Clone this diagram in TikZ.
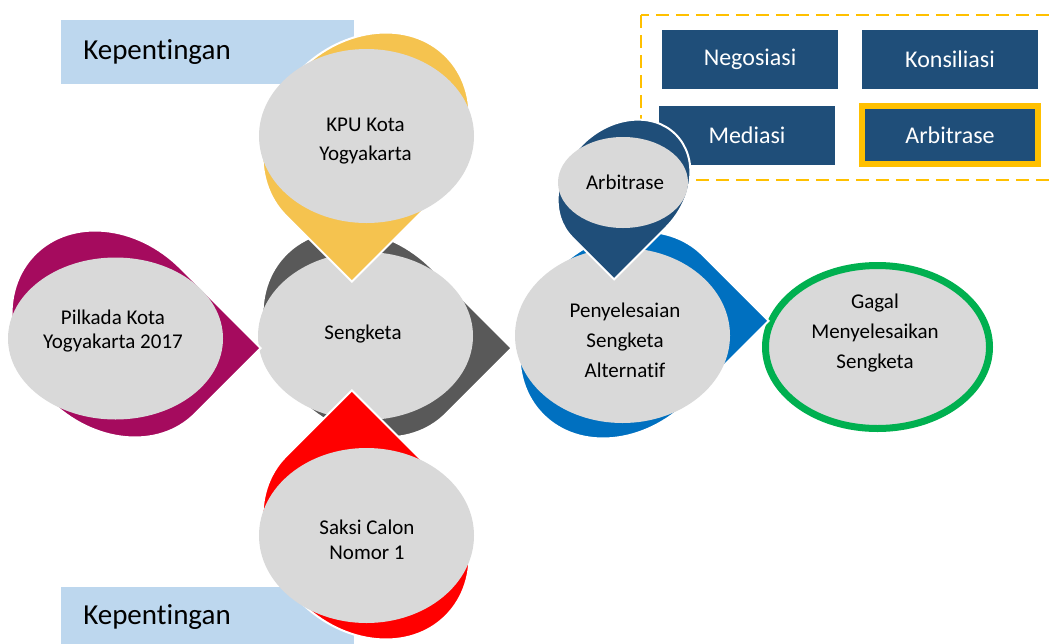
\documentclass[tikz,border=0pt]{standalone}
\usepackage{fontspec}
\setmainfont{Carlito}[Ligatures=NoCommon]
\usetikzlibrary{shapes.geometric}
\definecolor{berry}{HTML}{A50B5E}
\definecolor{dgrey}{HTML}{595959}
\definecolor{gold1}{HTML}{F5C34F}
\definecolor{blue1}{HTML}{0070C0}
\definecolor{navy}{HTML}{1F4E79}
\definecolor{red1}{HTML}{FF0000}
\definecolor{lgrey}{HTML}{D9D9D9}
\definecolor{lblue}{HTML}{BDD7EE}
\definecolor{green1}{HTML}{00B050}
\definecolor{amber}{HTML}{FFC000}
\newcommand\tdrop[6]{%
  \begin{scope}[shift={(#2,#3)}, rotate=#4, xscale=#5, yscale=#6]
    \path[tear=#1] (1,1) -- (1,0) arc[start angle=0, end angle=-270, radius=1] -- cycle;
  \end{scope}}
\tikzset{
  tear/.style={fill=#1, draw=white, line width=1.5pt},
  ell/.style={ellipse, fill=lgrey, draw=none, inner sep=0pt},
  txt/.style={align=center, inner sep=0pt, text=black},
  kep/.style={fill=lblue, draw=none},
  kbox/.style={fill=navy, draw=none, minimum width=132pt, minimum height=44.25pt, inner sep=0pt, text=white, font=\fontsize{18}{21}\selectfont},
}
\begin{document}
\begin{tikzpicture}[x=0.75pt,y=-0.75pt]
\useasboundingbox (0,0) rectangle (1049,643);
\clip (0,0) rectangle (1049,643);
% Kepentingan boxes
\path[kep] (61,20) rectangle (354,84);
\node[txt, anchor=west, font=\fontsize{21.75}{26}\selectfont] (k1) at (83,52) {Kepentingan};
\path[kep] (61,587) rectangle (354,651);
\node[txt, anchor=west, font=\fontsize{21.75}{26}\selectfont] (k2) at (83,617) {Kepentingan};
% dashed frame and method boxes
\draw[amber, line width=2pt, dash pattern=on 9.75pt off 5.25pt] (641,15) rectangle (1060,180);
\node[kbox] (neg) at (750,59.5) {Negosiasi};
\node[kbox] (kon) at (950,59.5) {Konsiliasi};
\node[kbox] (med) at (747,135.5) {Mediasi};
\node[kbox, draw=amber, line width=4.5pt, minimum height=43.5pt] (arb) at (950,135) {Arbitrase};
% Gagal
\node[ell, draw=green1, line width=5.25pt, minimum width=168pt, minimum height=122.25pt] (gagal) at (877.5,347) {};
\node[txt, font=\fontsize{15.75}{22.5}\selectfont] (tgagal) at (875,333) {Gagal\\Menyelesaikan\\Sengketa};
% Penyelesaian
\tdrop{blue1}{623}{335}{45}{113}{93}
\node[ell, minimum width=161.25pt, minimum height=131.25pt] (pen) at (622.5,335.5) {};
\node[txt, font=\fontsize{15.75}{22.5}\selectfont] (tpen) at (625,340.5) {Penyelesaian\\Sengketa\\Alternatif};
% Arbitrase
\tdrop{navy}{624}{186}{-45}{59}{73}
\node[ell, minimum width=97.5pt, minimum height=68.25pt] (arbe) at (623,182.5) {};
\node[txt, font=\fontsize{15.75}{19}\selectfont] (tarb) at (625,182) {Arbitrase};
% Sengketa
\tdrop{dgrey}{366}{334}{45}{93}{113}
\node[ell, minimum width=161.25pt, minimum height=126pt] (seng) at (365.5,336) {};
\node[txt, font=\fontsize{15.75}{19}\selectfont] (tseng) at (363,334) {Sengketa};
% KPU
\tdrop{gold1}{366}{136}{-45}{93}{113}
\node[ell, minimum width=161.25pt, minimum height=130.5pt] (kpu) at (366.5,136) {};
\node[txt, font=\fontsize{15.75}{21.75}\selectfont] (tkpu) at (365.5,141) {KPU Kota\\Yogyakarta};
% Saksi
\tdrop{red1}{366}{536}{135}{113}{93}
\node[ell, minimum width=161.25pt, minimum height=131.25pt] (saksi) at (366.5,535.5) {};
\node[txt, font=\fontsize{15.75}{18.75}\selectfont] (tsaksi) at (367,539.5) {Saksi Calon\\Nomor 1};
% Pilkada
\tdrop{berry}{115}{334}{45}{93}{113}
\node[ell, minimum width=161.25pt, minimum height=121.5pt] (pil) at (115.5,338.5) {};
\node[txt, font=\fontsize{15.75}{18}\selectfont] (tpil) at (113,331) {Pilkada Kota\\Yogyakarta 2017};
\end{tikzpicture}
\end{document}
